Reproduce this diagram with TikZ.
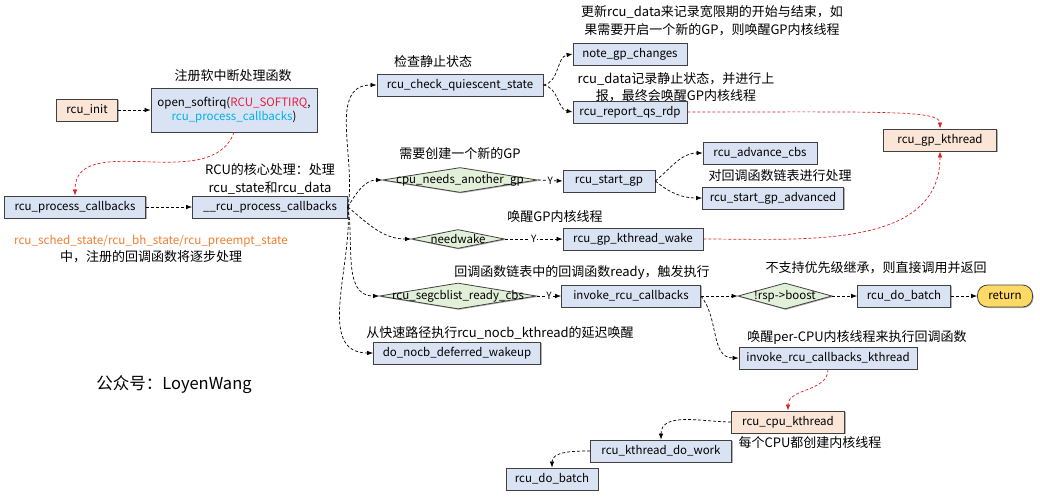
\documentclass[tikz,border=0pt]{standalone}
\usepackage{fontspec}
\setmainfont{Noto Sans CJK SC}
\usetikzlibrary{shapes.geometric,arrows.meta,shadows}
\definecolor{fblue}{HTML}{DAE3F3}
\definecolor{fpeach}{HTML}{FBE5D6}
\definecolor{fgreen}{HTML}{E2F0D9}
\definecolor{fyellow}{HTML}{FFD966}
\definecolor{bord}{HTML}{404040}
\definecolor{rcured}{HTML}{E61E3C}
\definecolor{rcucyan}{HTML}{00B0F0}
\definecolor{rcuorange}{HTML}{ED7D31}
\definecolor{lred}{HTML}{E02020}
\begin{document}
\begin{tikzpicture}[x=1pt,y=-1pt]
\tikzset{ombre/.style={drop shadow={shadow xshift=1pt, shadow yshift=-1pt, fill=black!30, opacity=1}},
fct/.style={draw=bord, fill=fblue, line width=0.8pt, ombre, minimum height=22pt, inner sep=2pt, font=\fontsize{11.5}{14}\selectfont},
thr/.style={fct, fill=fpeach},
cond/.style={draw=bord, fill=fgreen, line width=0.8pt, ombre, diamond, aspect=6, inner sep=0pt, font=\fontsize{11.5}{14}\selectfont},
txt/.style={align=center, inner sep=1pt, font=\fontsize{13}{18}\selectfont},
lien/.style={dash pattern=on 3pt off 2pt, line width=0.7pt, -{Latex[length=6pt,width=4.5pt]}},
lienrouge/.style={lien, draw=lred, -{Latex[length=6pt,width=4.5pt,fill=lred]}},
yes/.style={fill=white, inner sep=1pt, font=\fontsize{10}{11}\selectfont}}
\useasboundingbox (0,0) rectangle (1040,498);
% left part
\node[thr, minimum width=61pt] (init) at (87,110) {rcu\_init};
\node[fct, minimum width=166pt, minimum height=44pt, align=center] (softirq) at (234,110) {open\_softirq(\textcolor{rcured}{RCU\_SOFTIRQ},\\\textcolor{rcucyan}{rcu\_process\_callbacks})};
\node[txt] (t1) at (233,76) {注册软中断处理函数};
\node[fct, minimum width=141pt] (rpc) at (75,207) {rcu\_process\_callbacks};
\node[fct, minimum width=155pt] (core) at (270,207) {\_\_rcu\_process\_callbacks};
\node[txt] (t2) at (270,179) {RCU的核心处理：处理\\rcu\_state和rcu\_data};
\node[txt, font=\fontsize{13}{17}\selectfont] (t3) at (151,249) {\textcolor{rcuorange}{\fontsize{11.7}{17}\selectfont rcu\_sched\_state/rcu\_bh\_state/rcu\_preempt\_state}\\中，注册的回调函数将逐步处理};
\node[txt, font=\fontsize{16.5}{19}\selectfont] (wx) at (174,385) {公众号：LoyenWang};
% quiescent state
\node[fct, minimum width=166pt] (cqs) at (460,85) {rcu\_check\_quiescent\_state};
\node[txt] (t4) at (433,62) {检查静止状态};
\node[fct, minimum width=114pt] (note) at (630,54) {note\_gp\_changes};
\node[txt] (t5) at (712,21) {更新rcu\_data来记录宽限期的开始与结束，如\\果需要开启一个新的GP，则唤醒GP内核线程};
\node[fct, minimum width=114pt] (rqs) at (630,112) {rcu\_report\_qs\_rdp};
\node[txt, font=\fontsize{13}{17}\selectfont] (t6) at (676,87.5) {rcu\_data记录静止状态，并进行上\\报，最终会唤醒GP内核线程};
\node[thr, minimum width=113pt] (gpk) at (940,140) {rcu\_gp\_kthread};
% new gp
\node[cond, minimum width=155pt, minimum height=25pt, label=center:{\fontsize{11.5}{14}\selectfont cpu\_needs\_another\_gp}] (nag) at (460,180) {};
\node[txt] (t7) at (460,154) {需要创建一个新的GP};
\node[fct, minimum width=92pt] (sgp) at (609,181) {rcu\_start\_gp};
\node[fct, minimum width=114pt] (adv) at (760,153) {rcu\_advance\_cbs};
\node[txt] (t8) at (780,176) {对回调函数链表进行处理};
\node[fct, minimum width=141pt] (sga) at (773,198) {rcu\_start\_gp\_advanced};
% needwake
\node[cond, minimum width=93pt, minimum height=19pt, label=center:{\fontsize{11.5}{14}\selectfont needwake}] (nw) at (458,239) {};
\node[txt] (t9) at (555,217) {唤醒GP内核线程};
\node[fct, minimum width=140pt] (gpw) at (633,239) {rcu\_gp\_kthread\_wake};
% callbacks
\node[cond, minimum width=157pt, minimum height=26pt, label=center:{\fontsize{11.5}{14}\selectfont rcu\_segcblist\_ready\_cbs}] (rdy) at (458,296) {};
\node[txt] (t10) at (582,273) {回调函数链表中的回调函数ready，触发执行};
\node[fct, minimum width=139pt] (inv) at (631,296) {invoke\_rcu\_callbacks};
\node[cond, minimum width=94pt, minimum height=26pt, label=center:{\fontsize{11.5}{14}\selectfont !rsp->boost}] (boost) at (785,296) {};
\node[txt] (t11) at (876,268) {不支持优先级继承，则直接调用并返回};
\node[fct, minimum width=93pt] (batch) at (904,296) {rcu\_do\_batch};
\node[draw=bord, fill=fyellow, line width=0.8pt, ombre, rounded corners=10pt, minimum width=55pt, minimum height=22pt, font=\fontsize{11.5}{14}\selectfont] (ret) at (1005,296) {return};
\node[txt] (t12) at (500,333) {从快速路径执行rcu\_nocb\_kthread的延迟唤醒};
\node[fct, minimum width=167pt] (nocb) at (457,353) {do\_nocb\_deferred\_wakeup};
\node[txt] (t13) at (857,337) {唤醒per-CPU内核线程来执行回调函数};
\node[fct, minimum width=178pt] (ikt) at (828,358) {invoke\_rcu\_callbacks\_kthread};
\node[thr, minimum width=113pt] (cpuk) at (788,422) {rcu\_cpu\_kthread};
\node[txt] (t14) at (810,443) {每个CPU都创建内核线程};
\node[fct, minimum width=141pt] (kdw) at (661,451) {rcu\_kthread\_do\_work};
\node[fct, minimum width=92pt] (batch2) at (552,479) {rcu\_do\_batch};
% links
\draw[lien] (init) -- (softirq);
\draw[lienrouge] (softirq.south) to[out=250,in=90] (rpc.north);
\draw[lien] (rpc) -- (core);
\draw[lien] (core.east) to[out=80,in=180] (cqs.west);
\draw[lien] (core.east) to[out=60,in=180] (nag.west);
\draw[lien] (core.east) to[out=-40,in=180] (nw.west);
\draw[lien] (core.east) to[out=-80,in=180] (rdy.west);
\draw[lien] (core.east) to[out=-85,in=180] (nocb.west);
\draw[lien] (cqs.east) to[out=10,in=190] (note.west);
\draw[lien] (cqs.east) to[out=-10,in=170] (rqs.west);
\draw[lienrouge] (rqs.east) .. controls (880,112) and (940,110) .. (gpk.north);
\draw[lien] (nag.east) -- node[yes] (y1) {Y} (sgp.west);
\draw[lien] (sgp.east) to[out=40,in=180] (adv.west);
\draw[lien] (sgp.east) to[out=-40,in=180] (sga.west);
\draw[lien] (nw.east) -- node[yes] (y2) {Y} (gpw.west);
\draw[lienrouge] (gpw.east) to[out=0,in=-90] (gpk.south);
\draw[lien] (rdy.east) -- node[yes] (y3) {Y} (inv.west);
\draw[lien] (inv.east) -- (boost.west);
\draw[lien] (boost.east) -- (batch.west);
\draw[lien] (batch.east) -- (ret.west);
\draw[lien] (inv.east) to[out=-50,in=180] (ikt.west);
\draw[lienrouge] (ikt.south) to[out=-90,in=90] (cpuk.north);
\draw[lien] (cpuk.west) to[out=180,in=90] (kdw.north);
\draw[lien] (kdw.west) to[out=180,in=90] (batch2.north);
\end{tikzpicture}
\end{document}
